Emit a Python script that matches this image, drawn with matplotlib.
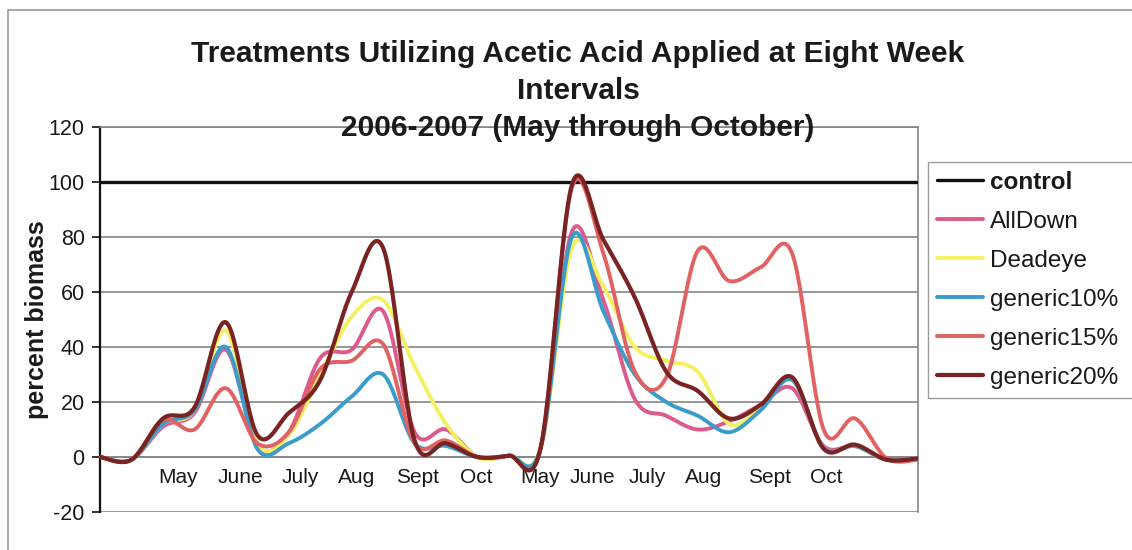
import numpy as np
import matplotlib
matplotlib.use("Agg")
import matplotlib.pyplot as plt
from matplotlib.patches import Rectangle

plt.rcParams['font.family'] = ['Liberation Sans', 'DejaVu Sans']
plt.rcParams['axes.unicode_minus'] = False

# Biweekly samplings, May-October 2006 then May-October 2007 (percent biomass)
sample_idx = list(range(27))

control = [100] * 27
alldown = [0, -1, 11, 16, 39, 4, 9, 36, 39, 53, 9, 10, 0, 0.5, 3,
           82, 57, 21, 15, 10, 13, 19, 25, 4, 4, -1, -0.5]
deadeye = [0, -1, 12, 17, 46, 5, 8, 30, 51, 57, 33, 12, 0, 0.5, 3,
           76, 62, 40, 35, 31, 12, 18, 28, 3.5, 4, -1, -0.5]
generic10 = [0, -1, 12, 17, 40, 3, 5, 12, 22, 30, 5, 4, 0, 0.5, 3,
             80, 53, 30, 20, 15, 9, 17, 28, 3.5, 4, -1, -0.5]
generic15 = [0, -1, 13.5, 10, 25, 5, 9, 32, 35, 41, 5, 6, 0, 0.5, 3,
             98, 74, 31, 29, 75, 64, 69, 74, 10, 14, -0.5, -1]
generic20 = [0, -1, 14, 18, 49, 8, 16, 28, 60, 76, 6, 5, 0, 0.5, 3,
             99, 79, 58, 31, 24, 14, 19, 29, 3, 4.5, -1, -0.5]

month_labels = ["May", "June", "July", "Aug", "Sept", "Oct",
                "May", "June", "July", "Aug", "Sept", "Oct"]
month_pos = [2.48, 4.45, 6.36, 8.17, 10.1, 11.95,
             13.99, 15.64, 17.39, 19.17, 21.27, 23.08]

series = [
    ("control", control, "#111111", 2.4),
    ("AllDown", alldown, "#dc5a8c", 2.8),
    ("Deadeye", deadeye, "#f4f062", 2.8),
    ("generic10%", generic10, "#3b9ccb", 2.8),
    ("generic15%", generic15, "#e06262", 2.8),
    ("generic20%", generic20, "#7a2323", 3.0),
]


def smooth(xs, ys, n=24):
    """Bezier smoothing through every point (Catmull-Rom style)."""
    P = np.column_stack([xs, ys]).astype(float)
    E = np.vstack([P[0], P, P[-1]])
    t = np.linspace(0, 1, n, endpoint=False)[:, None]
    parts = []
    for i in range(len(P) - 1):
        p0, p1, p2, p3 = E[i], E[i + 1], E[i + 2], E[i + 3]
        c1 = p1 + (p2 - p0) / 6.0
        c2 = p2 - (p3 - p1) / 6.0
        parts.append((1 - t) ** 3 * p1 + 3 * (1 - t) ** 2 * t * c1
                     + 3 * (1 - t) * t ** 2 * c2 + t ** 3 * p2)
    parts.append(P[-1][None, :])
    return np.vstack(parts)


fig = plt.figure(figsize=(11.32, 5.5), dpi=100)
ax = fig.add_axes([100 / 1132, 38 / 550, 818 / 1132, 385 / 550])

handles = []
for name, vals, color, lw in series:
    pts = smooth(sample_idx, vals)
    ln, = ax.plot(pts[:, 0], pts[:, 1], color=color, lw=lw, label=name,
                  solid_capstyle='round', solid_joinstyle='round', zorder=3)
    handles.append(ln)

ax.set_xlim(0, 26)
ax.set_ylim(-20, 120)
ax.set_yticks(range(-20, 121, 20))
ax.set_xticks(month_pos)
ax.set_xticklabels(month_labels)

ax.yaxis.grid(True, color="#858585", lw=1.2)
ax.set_axisbelow(True)

ax.spines['left'].set_color('#111111')
ax.spines['left'].set_linewidth(1.6)
for s in ('right', 'top'):
    ax.spines[s].set_color('#858585')
    ax.spines[s].set_linewidth(1.2)
ax.spines['bottom'].set_position(('data', 0))
ax.spines['bottom'].set_color('#858585')
ax.spines['bottom'].set_linewidth(1.2)

ax.tick_params(axis='x', length=0, pad=8, labelsize=15, labelcolor='#1a1a1a')
ax.tick_params(axis='y', length=6, width=1.2, direction='out', pad=5,
               labelsize=15.5, labelcolor='#1a1a1a', color='#111111')

ax.set_ylabel("percent biomass", fontsize=18, fontweight='bold', color='#1a1a1a')
ax.yaxis.set_label_coords(-0.062, 0.5)

# Title, three centred lines
title_lines = ["Treatments Utilizing Acetic Acid Applied at Eight Week",
               "Intervals",
               "2006-2007 (May through October)"]
for line, base in zip(title_lines, [62, 99, 136]):
    fig.text(578 / 1132, 1 - base / 550, line, ha='center', va='baseline',
             fontsize=21.5, fontweight='bold', color='#1a1a1a')

leg = ax.legend(handles, [h.get_label() for h in handles], loc='upper left',
                bbox_to_anchor=(928 / 1132, 0, 230 / 1132, 1 - 162 / 550),
                bbox_transform=fig.transFigure, mode='expand',
                frameon=True, fancybox=False,
                borderaxespad=0, borderpad=0.36, handlelength=1.9,
                handletextpad=0.3, labelspacing=0.7, fontsize=17.5)
leg.get_frame().set_edgecolor('#858585')
leg.get_frame().set_linewidth(1.0)
for txt in leg.get_texts():
    txt.set_color('#1a1a1a')
leg.get_texts()[0].set_fontweight('bold')

# Outer chart frame
fig.patches.append(Rectangle((8 / 1132, -0.1), 1.2, 1.1 - 10 / 550,
                             transform=fig.transFigure, fill=False,
                             ec='#9a9a9a', lw=1.2))

fig.savefig("out.png", dpi=100)
